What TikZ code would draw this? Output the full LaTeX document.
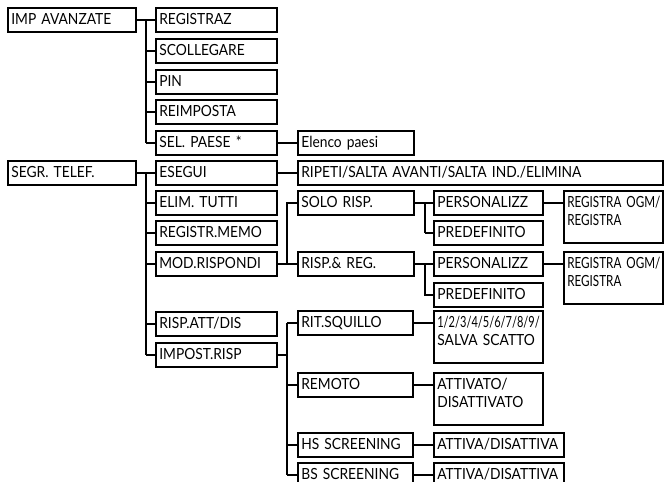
\documentclass[tikz,border=0pt]{standalone}
\usepackage{fontspec}
\setmainfont{Lato}[FakeStretch=0.9]
\newfontfamily\ogmfont{Lato}[FakeStretch=0.76]
\newfontfamily\digitfont{Lato}[FakeStretch=0.72]
\frenchspacing
\hyphenpenalty=10000

\begin{document}
\begin{tikzpicture}[x=0.75pt, y=-0.75pt,
        menu/.style={draw, line width=1.5pt, anchor=north west, align=left,
            inner xsep=2.5pt, inner ysep=3pt, text height=9.5pt, text depth=2.5pt,
            font=\fontsize{11.5}{13.5}\selectfont, text width=#1},
        tall/.style={text depth=23.5pt},
        link/.style={line width=1.5pt},
        thinlink/.style={line width=0.8pt}]
        \useasboundingbox (0,0) rectangle (665,482);
        \clip (0,0) rectangle (665,482);

        \node[menu=91pt] (imp) at (7,7) {IMP AVANZATE};
        \node[menu=85.75pt] (regz) at (155,7) {REGISTRAZ};
        \node[menu=85.75pt] (scol) at (155,38) {SCOLLEGARE};
        \node[menu=85.75pt] (pin) at (155,69) {PIN};
        \node[menu=85.75pt] (reimp) at (155,99) {REIMPOSTA};
        \node[menu=85.75pt] (selp) at (155,130) {SEL. PAESE *};
        \node[menu=82pt] (elenco) at (297,130) {Elenco paesi};

        \node[menu=91pt] (segr) at (7,160) {SEGR. TELEF.};
        \node[menu=85.75pt] (eseg) at (155,160) {ESEGUI};
        \node[menu=85.75pt] (elim) at (155,190) {ELIM. TUTTI};
        \node[menu=85.75pt] (memo) at (155,220) {REGISTR.MEMO};
        \node[menu=85.75pt] (modr) at (155,251) {MOD.RISPONDI};
        \node[menu=85.75pt] (rattd) at (155,311) {RISP.ATT/DIS};
        \node[menu=85.75pt] (impr) at (155,342) {IMPOST.RISP};

        \node[menu=268.75pt] (ripeti) at (297,160) {RIPETI/SALTA AVANTI/SALTA IND./ELIMINA};
        \node[menu=82pt] (solo) at (297,190) {SOLO RISP.};
        \node[menu=82pt] (rreg) at (297,251) {RISP.\& REG.};
        \node[menu=76.75pt] (pers1) at (433,190) {PERSONALIZZ};
        \node[menu=76.75pt] (pred1) at (433,220) {PREDEFINITO};
        \node[menu=69.25pt, tall] (ogm1) at (563,190) {\ogmfont\mbox{REGISTRA OGM/}\\REGISTRA};
        \node[menu=76.75pt] (pers2) at (433,251) {PERSONALIZZ};
        \node[menu=76.75pt] (pred2) at (433,282) {PREDEFINITO};
        \node[menu=69.25pt, tall] (ogm2) at (563,251) {\ogmfont\mbox{REGISTRA OGM/}\\REGISTRA};

        \node[menu=81.5pt] (ritsq) at (297,310) {RIT.SQUILLO};
        \node[menu=76.75pt, tall] (squilli) at (433,310) {{\digitfont 1/2/3/4/5/6/7/8/9/}\\\mbox{SALVA SCATTO}};
        \node[menu=81.5pt] (remoto) at (297,372) {REMOTO};
        \node[menu=76.75pt, tall] (attiv) at (433,372) {ATTIVATO/\\DISATTIVATO};
        \node[menu=81.5pt] (hss) at (297,432) {HS SCREENING};
        \node[menu=92.5pt] (attA) at (433,432) {ATTIVA/DISATTIVA};
        \node[menu=81.5pt] (bss) at (297,462) {BS SCREENING};
        \node[menu=92.5pt] (attB) at (433,462) {ATTIVA/DISATTIVA};

        \coordinate (tA) at ([xshift=6.75pt]imp.east);
        \draw[link] (imp.east) -- (regz.west);
        \draw[thinlink] (tA) -- (tA |- selp.west);
        \foreach \c in {scol,pin,reimp,selp}
            \draw[link] (tA |- \c.west) -- (\c.west);
        \draw[link] (selp.east) -- (elenco.west);

        \coordinate (tB) at ([xshift=6.75pt]segr.east);
        \draw[link] (segr.east) -- (eseg.west);
        \draw[link] (tB) -- (tB |- impr.west);
        \foreach \c in {elim,memo,modr,rattd,impr}
            \draw[link] (tB |- \c.west) -- (\c.west);
        \draw[link] (eseg.east) -- (ripeti.west);

        \coordinate (tC) at ([xshift=6.75pt]modr.east);
        \draw[link] (modr.east) -- (tC);
        \draw[link] (solo.west) -| (tC) |- (rreg.west);

        \coordinate (tD) at ([xshift=7.5pt]solo.east);
        \draw[link] (solo.east) -- (pers1.west);
        \draw[thinlink] (tD) -- (tD |- pred1.west);
        \draw[link] (tD |- pred1.west) -- (pred1.west);
        \draw[link] (pers1.east) -- (pers1.east -| ogm1.west);

        \coordinate (tE) at ([xshift=7.5pt]rreg.east);
        \draw[link] (rreg.east) -- (pers2.west);
        \draw[link] (tE) |- (pred2.west);
        \draw[link] (pers2.east) -- (pers2.east -| ogm2.west);

        \coordinate (tF) at ([xshift=6.75pt]impr.east);
        \draw[link] (impr.east) -- (tF);
        \draw[link] (tF |- ritsq.west) -- (tF |- bss.west);
        \foreach \c in {ritsq,remoto,hss,bss}
            \draw[link] (tF |- \c.west) -- (\c.west);
        \draw[link] (ritsq.east) -- (ritsq.east -| squilli.west);
        \draw[link] (remoto.east) -- (remoto.east -| attiv.west);
        \draw[link] (hss.east) -- (attA.west);
        \draw[link] (bss.east) -- (attB.west);

    \end{tikzpicture}
\end{document}
